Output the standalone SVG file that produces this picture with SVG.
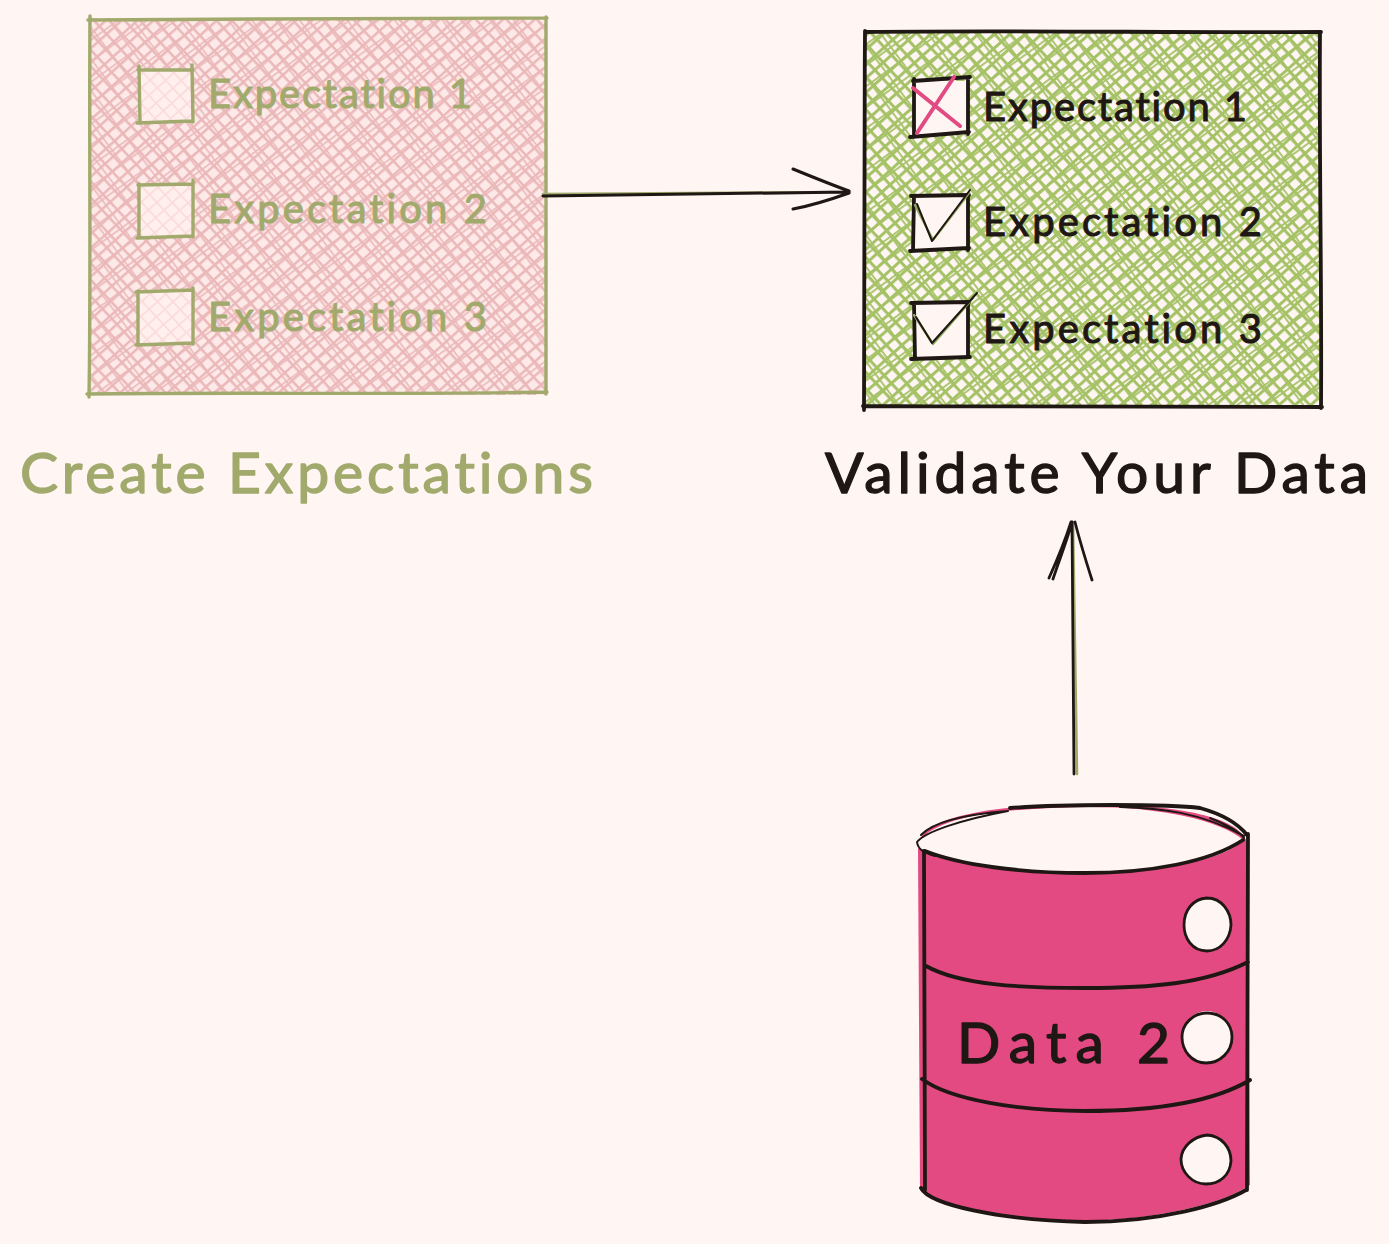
<svg xmlns="http://www.w3.org/2000/svg" width="1389" height="1244" viewBox="0 0 1389 1244">
<style>
.sk{fill:none;stroke-linecap:round;stroke-linejoin:round}
.ol{stroke:#a1aa6c;stroke-width:3.4}
.dk{stroke:#1e1714;stroke-width:3.8}
.thin{stroke:#1e1714;stroke-width:2}
.gr{stroke:#8fa95a;stroke-width:2.4}
.rd{stroke:#e24a82;stroke-width:4}
.txt{font-family:"Lato","Noto Sans",sans-serif;font-weight:400;font-variant-ligatures:none;stroke-linejoin:round}
.lab{font-size:40px;stroke-width:1}
.big{font-size:57px;stroke-width:1.4}
.g{fill:#a1aa6c;stroke:#a1aa6c}
.k{fill:#1e1714;stroke:#1e1714}
.box{fill:#fff5f2}
</style>
<defs>
<pattern id="p1" width="10.6" height="10.6" patternUnits="userSpaceOnUse" patternTransform="rotate(-42)"><rect width="10.6" height="2.5" fill="#ebb8ba"/></pattern>
<pattern id="p2" width="11.2" height="11.2" patternUnits="userSpaceOnUse" patternTransform="rotate(47)"><rect width="11.2" height="2.5" fill="#ebb8ba"/></pattern>
<pattern id="p3" width="17" height="17" patternUnits="userSpaceOnUse" patternTransform="rotate(-36)"><rect width="17" height="1.6" fill="#ebb8ba"/></pattern>
<pattern id="p4" width="19" height="19" patternUnits="userSpaceOnUse" patternTransform="rotate(53)"><rect width="19" height="1.6" fill="#ebb8ba"/></pattern>
<pattern id="g1" width="10.6" height="10.6" patternUnits="userSpaceOnUse" patternTransform="rotate(-42)"><rect width="10.6" height="3" fill="#a5c267"/></pattern>
<pattern id="g2" width="11.2" height="11.2" patternUnits="userSpaceOnUse" patternTransform="rotate(47)"><rect width="11.2" height="3" fill="#a5c267"/></pattern>
<pattern id="g3" width="17" height="17" patternUnits="userSpaceOnUse" patternTransform="rotate(-36)"><rect width="17" height="1.8" fill="#a5c267"/></pattern>
<pattern id="g4" width="19" height="19" patternUnits="userSpaceOnUse" patternTransform="rotate(53)"><rect width="19" height="1.8" fill="#a5c267"/></pattern>
<pattern id="l1" width="10.6" height="10.6" patternUnits="userSpaceOnUse" patternTransform="rotate(-42)"><rect width="10.6" height="1.8" fill="#fbdcdc"/></pattern>
<pattern id="l2" width="11.2" height="11.2" patternUnits="userSpaceOnUse" patternTransform="rotate(47)"><rect width="11.2" height="1.8" fill="#fbdcdc"/></pattern>
</defs>
<rect width="1389" height="1244" fill="#fff5f2"/>

<g id="create-box">
<rect x="89" y="18" width="457" height="377" fill="#fdeae8"/>
<rect x="89" y="18" width="457" height="377" fill="url(#p1)"/>
<rect x="89" y="18" width="457" height="377" fill="url(#p2)"/>
<rect x="89" y="18" width="457" height="377" fill="url(#p3)"/>
<rect x="89" y="18" width="457" height="377" fill="url(#p4)"/>
<path class="sk ol" d="M88 20C240 18 400 20 547 18M90 16C89 140 91 280 89 397M546 17C545 150 547 280 546 394M87 394C240 392 400 395 547 392"/>
</g>
<g id="create-check-1">
<rect x="138" y="69" width="55" height="54" fill="#fff0ee"/><rect x="138" y="69" width="55" height="54" fill="url(#l1)"/><rect x="138" y="69" width="55" height="54" fill="url(#l2)"/>
<path class="sk ol" d="M138 70L193 70M139 66L140 123M192 65L193 122M137 123L192 121"/>
<text class="txt lab g" x="208" y="108" textLength="264" lengthAdjust="spacing">Expectation 1</text>
</g>
<g id="create-check-2">
<rect x="138" y="184" width="55" height="54" fill="#fff0ee"/><rect x="138" y="184" width="55" height="54" fill="url(#l1)"/><rect x="138" y="184" width="55" height="54" fill="url(#l2)"/>
<path class="sk ol" d="M138 185L193 184M139 184L139 238M193 180L193 237M137 238L193 236"/>
<text class="txt lab g" x="208" y="223" textLength="279" lengthAdjust="spacing">Expectation 2</text>
</g>
<g id="create-check-3">
<rect x="138" y="291" width="55" height="54" fill="#fff0ee"/><rect x="138" y="291" width="55" height="54" fill="url(#l1)"/><rect x="138" y="291" width="55" height="54" fill="url(#l2)"/>
<path class="sk ol" d="M136 292L193 290M138 291L138 345M193 288L193 344M136 345L193 343"/>
<text class="txt lab g" x="208" y="331" textLength="279" lengthAdjust="spacing">Expectation 3</text>
</g>
<g id="create-title"><text class="txt big g" x="20" y="493" textLength="573" lengthAdjust="spacing">Create Expectations</text></g>

<g id="validate-box">
<rect x="865" y="31" width="456" height="377" fill="#fff5f2"/>
<rect x="865" y="31" width="456" height="377" fill="url(#g1)"/>
<rect x="865" y="31" width="456" height="377" fill="url(#g2)"/>
<rect x="865" y="31" width="456" height="377" fill="url(#g3)"/>
<rect x="865" y="31" width="456" height="377" fill="url(#g4)"/>
<path class="sk dk" d="M865 32C1020 30 1180 33 1321 32M865 31C864 160 865 290 864 410M1320 33C1319 160 1322 290 1321 408M863 406C1020 407 1180 406 1322 407"/>
</g>
<g id="validate-check-1">
<rect x="914" y="81" width="54" height="54" class="box"/>
<path class="sk dk" d="M913 81L970 77M914 79L914 137M968 80L968 134M910 137L969 132"/>
<path class="sk rd" d="M913 88L960 126M954 77L917 133"/>
<text class="txt lab k" x="983" y="121" textLength="264" lengthAdjust="spacing">Expectation 1</text>
</g>
<g id="validate-check-2">
<rect x="914" y="196" width="54" height="54" class="box"/>
<path class="sk dk" d="M911 196L969 195M914 196L913 251M968 195L968 250M910 251L969 248"/>
<path class="sk gr" d="M915 205L933 240L969 193"/>
<path class="sk thin" d="M917 204L932 241L970 190"/>
<text class="txt lab k" x="983" y="236" textLength="279" lengthAdjust="spacing">Expectation 2</text>
</g>
<g id="validate-check-3">
<rect x="914" y="303" width="54" height="54" class="box"/>
<path class="sk dk" d="M911 303L969 302M914 303L915 359M968 303L968 357M911 359L970 357"/>
<path class="sk gr" d="M914 315L933 344L973 298"/>
<path class="sk thin" d="M916 317L932 343L977 293"/>
<text class="txt lab k" x="983" y="343" textLength="279" lengthAdjust="spacing">Expectation 3</text>
</g>
<g id="validate-title"><text class="txt big k" x="825" y="493" textLength="543" lengthAdjust="spacing">Validate Your Data</text></g>

<g id="connectors">
<path class="sk" stroke="#a1aa6c" stroke-width="2.4" d="M543 194L850 192"/>
<path class="sk dk" d="M543 196L848 192M793 169C815 178 835 186 849 191M793 209C815 205 835 198 849 193" style="stroke-width:3"/>
<path class="sk" stroke="#a1aa6c" stroke-width="2.6" d="M1077 774L1073 522"/>
<path class="sk dk" d="M1074 774L1072 522M1049 578C1058 558 1066 538 1071 522M1053 579C1060 558 1068 538 1072 522M1092 580C1085 558 1079 538 1075 522" style="stroke-width:2.8"/>
</g>

<g id="database">
<path d="M918 848C918 824 960 806 1080 804C1190 804 1248 820 1248 848L1250 1185C1220 1206 1150 1220 1080 1221C1000 1220 945 1208 920 1190Z" fill="#e34a82"/>
<path d="M918 842C940 814 1010 808 1090 807C1160 807 1220 820 1243 840C1225 860 1160 872 1085 873C1010 873 950 865 918 848Z" fill="#fff5f2"/>
<path class="sk dk" d="M1010 808C1060 804 1170 804 1200 808C1225 815 1240 826 1247 835M1243 840C1210 862 1150 873 1085 873C1020 873 960 865 925 851"/>
<path class="sk thin" d="M1008 811C960 820 925 832 917 842C918 850 925 853 935 856M1008 811C970 814 935 820 921 835M1210 818C1225 824 1238 830 1244 838M1120 807C1160 808 1200 812 1244 836"/>
<path class="sk dk" d="M924 851L925 1190M1248 834L1247 1190M926 966C960 985 1020 988 1085 988C1150 988 1205 984 1248 962M922 1079C950 1100 1020 1111 1085 1111C1150 1111 1210 1104 1250 1080M921 1188C930 1205 1000 1220 1085 1222C1160 1222 1220 1205 1246 1190"/>
</g>
<g id="disk-1">
<ellipse cx="1207" cy="925" rx="24" ry="27" fill="#fff5f2"/>
<path class="sk dk" d="M1207 898C1222 898 1231 912 1231 925C1230 940 1220 951 1207 951C1192 951 1184 938 1184 925C1184 910 1193 899 1207 898" style="stroke-width:2.8"/>
</g>
<g id="disk-2">
<ellipse cx="1207" cy="1037" rx="25" ry="26" fill="#fff5f2"/>
<path class="sk dk" d="M1207 1013C1222 1013 1232 1024 1232 1037C1232 1052 1220 1063 1206 1063C1192 1063 1182 1051 1182 1037C1182 1024 1193 1013 1207 1013" style="stroke-width:2.8"/>
</g>
<g id="disk-3">
<ellipse cx="1206" cy="1160" rx="24" ry="25" fill="#fff5f2"/>
<path class="sk dk" d="M1207 1135C1222 1136 1231 1148 1231 1161C1230 1175 1220 1184 1206 1184C1192 1184 1181 1172 1181 1159C1182 1146 1193 1137 1207 1135" style="stroke-width:2.8"/>
</g>
<g id="database-label"><text class="txt big k" x="957" y="1063" textLength="213" lengthAdjust="spacing">Data 2</text></g>
</svg>
